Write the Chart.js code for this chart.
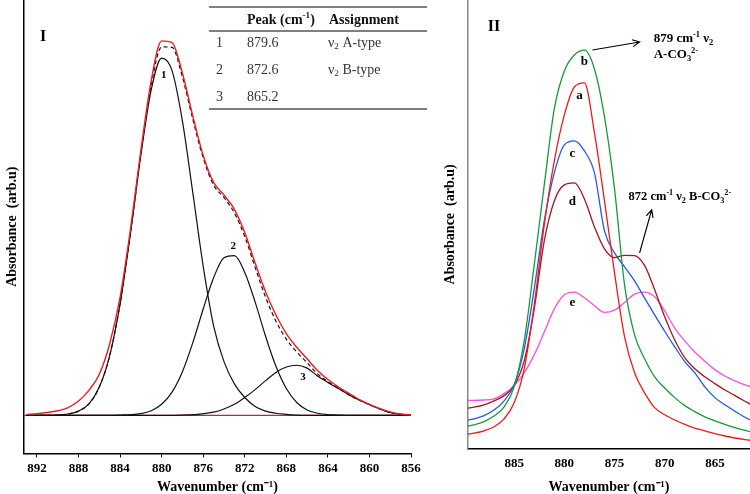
<!DOCTYPE html>
<html>
<head>
<meta charset="utf-8">
<script src="https://cdn.jsdelivr.net/npm/chart.js@4.4.0/dist/chart.umd.min.js"></script>
<style>
  body { margin: 0; background: #fff; }
  #wrap { position: relative; width: 750px; height: 494px; }
  #box1 { position: absolute; left: 0; top: 0; width: 430px; height: 494px; }
  #box2 { position: absolute; left: 436px; top: 0; width: 314px; height: 494px; }
</style>
</head>
<body>
<div id="wrap">
  <div id="box1"><canvas id="chart1"></canvas></div>
  <div id="box2"><canvas id="chart2"></canvas></div>
</div>
<script>
// ---- panel I : fitted v2 carbonate band ----
var wn1 = [893, 892, 891, 890, 889, 888, 887, 886, 885, 884, 883, 882, 881, 880, 879, 878, 877, 876, 875,
  874, 873, 872, 871, 870, 869, 868, 867, 866, 865, 864, 863, 862, 861, 860, 859, 858, 857, 856];
var measured = [0.003, 0.005, 0.008, 0.013, 0.022, 0.04, 0.07, 0.115, 0.2, 0.33, 0.52, 0.74, 0.935, 1.045, 1.04,
  0.955, 0.835, 0.725, 0.65, 0.615, 0.575, 0.51, 0.425, 0.345, 0.28, 0.228, 0.19, 0.158, 0.125, 0.1, 0.08,
  0.062, 0.045, 0.031, 0.019, 0.01, 0.004, 0.001];
var fitSum = [0, 0, 0, 0.001, 0.004, 0.012, 0.032, 0.079, 0.167, 0.312, 0.51, 0.731, 0.922, 1.028, 1.027,
  0.944, 0.826, 0.718, 0.643, 0.608, 0.565, 0.499, 0.413, 0.33, 0.263, 0.213, 0.177, 0.147, 0.116, 0.094,
  0.076, 0.058, 0.043, 0.03, 0.018, 0.008, 0.003, 0.001];
var peak1 = [0, 0, 0, 0.001, 0.004, 0.012, 0.032, 0.079, 0.167, 0.311, 0.508, 0.726, 0.909, 0.997, 0.962,
  0.821, 0.621, 0.416, 0.25, 0.15, 0.088, 0.05, 0.025, 0.012, 0.006, 0.003, 0.001, 0, 0, 0, 0, 0, 0, 0, 0, 0, 0, 0];
var peak2 = [0, 0, 0, 0, 0, 0, 0, 0, 0, 0.001, 0.002, 0.005, 0.013, 0.031, 0.065, 0.122, 0.203, 0.297, 0.384,
  0.44, 0.446, 0.399, 0.316, 0.221, 0.137, 0.075, 0.036, 0.015, 0.006, 0.002, 0.001, 0, 0, 0, 0, 0, 0, 0];
var peak3 = [0, 0, 0, 0, 0, 0, 0, 0, 0, 0, 0, 0, 0, 0, 0, 0.001, 0.002, 0.005, 0.009, 0.018, 0.031, 0.05,
  0.072, 0.097, 0.12, 0.135, 0.14, 0.132, 0.11, 0.092, 0.075, 0.058, 0.043, 0.03, 0.018, 0.008, 0.003, 0.001];
var baseline1 = [0, 0];
var baseX1 = [893.25, 856];
var ticks1 = [892, 888, 884, 880, 876, 872, 868, 864, 860, 856];

// ---- panel II : samples a-e ----
var wn2 = [890, 889, 888, 887, 886, 885, 884, 883, 882, 881, 880, 879, 878, 877, 876, 875, 874, 873, 872,
  871, 870, 869, 868, 867, 866, 865, 864, 863, 862, 861];
var sampleA = [0.035, 0.039, 0.045, 0.055, 0.075, 0.115, 0.2, 0.36, 0.56, 0.72, 0.835, 0.905, 0.915, 0.79,
  0.62, 0.44, 0.28, 0.19, 0.14, 0.103, 0.085, 0.072, 0.061, 0.052, 0.045, 0.038, 0.032, 0.027, 0.023, 0.02];
var sampleB = [0.055, 0.06, 0.068, 0.082, 0.105, 0.155, 0.27, 0.46, 0.66, 0.85, 0.945, 0.985, 0.997, 0.95,
  0.83, 0.65, 0.41, 0.285, 0.225, 0.18, 0.152, 0.128, 0.108, 0.093, 0.08, 0.07, 0.061, 0.053, 0.046, 0.04];
var sampleC = [0.07, 0.075, 0.083, 0.097, 0.12, 0.16, 0.25, 0.4, 0.57, 0.69, 0.76, 0.77, 0.745, 0.69,
  0.545, 0.49, 0.455, 0.42, 0.377, 0.335, 0.294, 0.255, 0.218, 0.19, 0.155, 0.128, 0.11, 0.094, 0.079, 0.066];
var sampleD = [0.1, 0.104, 0.11, 0.12, 0.133, 0.158, 0.22, 0.35, 0.52, 0.62, 0.66, 0.665, 0.625, 0.555,
  0.5, 0.478, 0.484, 0.483, 0.458, 0.398, 0.33, 0.272, 0.228, 0.2, 0.18, 0.163, 0.147, 0.133, 0.119, 0.105];
var sampleE = [0.121, 0.121, 0.122, 0.125, 0.138, 0.158, 0.19, 0.235, 0.292, 0.35, 0.385, 0.392, 0.378,
  0.358, 0.341, 0.347, 0.366, 0.387, 0.392, 0.38, 0.345, 0.302, 0.27, 0.242, 0.219, 0.198, 0.182, 0.17, 0.16, 0.152];
var ticks2 = [885, 880, 875, 870, 865];

var serif = '"Liberation Serif", "Times New Roman", serif';

function pts(xs, ys) {
  return xs.map(function (x, i) { return { x: x, y: ys[i] }; });
}

function curve(xs, ys, color, width, dash) {
  return {
    data: pts(xs, ys),
    borderColor: color,
    borderWidth: width,
    borderDash: dash || [],
    pointRadius: 0,
    fill: false,
    cubicInterpolationMode: 'monotone'
  };
}

// text with sub / superscripts, parts = [[text, 'sup'|'sub'|undefined], ...]
function rich(ctx, x, y, parts, size, bold, align) {
  var weight = bold ? 'bold ' : '';
  var total = 0;
  parts.forEach(function (p) {
    ctx.font = weight + (p[1] ? size * 0.65 : size) + 'px ' + serif;
    total += ctx.measureText(p[0]).width;
  });
  var cx = align === 'center' ? x - total / 2 : x;
  ctx.textAlign = 'left';
  ctx.textBaseline = 'middle';
  parts.forEach(function (p) {
    var s = p[1] ? size * 0.65 : size;
    var dy = p[1] === 'sup' ? -size * 0.32 : (p[1] === 'sub' ? size * 0.28 : 0);
    ctx.font = weight + s + 'px ' + serif;
    ctx.fillText(p[0], cx, y + dy);
    cx += ctx.measureText(p[0]).width;
  });
}

function arrow(ctx, x1, y1, x2, y2) {
  var a = Math.atan2(y2 - y1, x2 - x1), h = 8;
  ctx.beginPath();
  ctx.moveTo(x1, y1);
  ctx.lineTo(x2, y2);
  ctx.moveTo(x2 - h * Math.cos(a - 0.45), y2 - h * Math.sin(a - 0.45));
  ctx.lineTo(x2, y2);
  ctx.lineTo(x2 - h * Math.cos(a + 0.45), y2 - h * Math.sin(a + 0.45));
  ctx.stroke();
}

var notes1 = {
  id: 'notes1',
  afterDraw: function (chart) {
    var ctx = chart.ctx, sx = chart.scales.x, sy = chart.scales.y;
    ctx.save();
    ctx.fillStyle = '#000';
    rich(ctx, sx.getPixelForValue(891.4), sy.getPixelForValue(1.056), [['I']], 16, true, 'center');
    rich(ctx, sx.getPixelForValue(879.8), sy.getPixelForValue(0.95), [['1']], 11, true, 'center');
    rich(ctx, sx.getPixelForValue(873.1), sy.getPixelForValue(0.472), [['2']], 11, true, 'center');
    rich(ctx, sx.getPixelForValue(866.4), sy.getPixelForValue(0.106), [['3']], 11, true, 'center');

    // peak table
    ctx.strokeStyle = '#555';
    ctx.lineWidth = 1.6;
    [7, 31, 109].forEach(function (y) {
      ctx.beginPath();
      ctx.moveTo(209, y);
      ctx.lineTo(427, y);
      ctx.stroke();
    });
    ctx.fillStyle = '#111';
    rich(ctx, 247, 20, [['Peak (cm'], ['-1', 'sup'], [')']], 14, true);
    rich(ctx, 329, 20, [['Assignment']], 14, true);
    ctx.fillStyle = '#333';
    rich(ctx, 216, 43, [['1']], 14);
    rich(ctx, 247, 43, [['879.6']], 14);
    rich(ctx, 328, 43, [['\u03bd'], ['2', 'sub'], [' A-type']], 14);
    rich(ctx, 216, 70, [['2']], 14);
    rich(ctx, 247, 70, [['872.6']], 14);
    rich(ctx, 328, 70, [['\u03bd'], ['2', 'sub'], [' B-type']], 14);
    rich(ctx, 216, 97, [['3']], 14);
    rich(ctx, 247, 97, [['865.2']], 14);
    ctx.restore();
  }
};

var notes2 = {
  id: 'notes2',
  afterDraw: function (chart) {
    var ctx = chart.ctx, sx = chart.scales.x, sy = chart.scales.y;
    function px(v) { return sx.getPixelForValue(v); }
    function py(v) { return sy.getPixelForValue(v); }
    ctx.save();
    ctx.fillStyle = '#000';
    ctx.strokeStyle = '#000';
    ctx.lineWidth = 1.2;
    rich(ctx, px(887.0), py(1.055), [['II']], 16, true, 'center');
    rich(ctx, px(878.0), py(0.9675), [['b']], 13, true, 'center');
    rich(ctx, px(878.5), py(0.8825), [['a']], 13, true, 'center');
    rich(ctx, px(879.2), py(0.7375), [['c']], 13, true, 'center');
    rich(ctx, px(879.2), py(0.6175), [['d']], 13, true, 'center');
    rich(ctx, px(879.2), py(0.365), [['e']], 13, true, 'center');
    arrow(ctx, px(877.2), py(0.9975), px(872.5), py(1.0175));
    rich(ctx, px(871.1), py(1.025), [['879 cm'], ['-1', 'sup'], [' \u03bd'], ['2', 'sub']], 13, true);
    rich(ctx, px(871.1), py(0.985), [['A-CO'], ['3', 'sub'], ['2-', 'sup']], 13, true);
    arrow(ctx, px(872.5), py(0.49), px(871.3), py(0.5975));
    rich(ctx, px(873.6), py(0.63), [['872 cm'], ['-1', 'sup'], [' \u03bd'], ['2', 'sub'], [' B-CO'], ['3', 'sub'], ['2-', 'sup']], 12.5, true);
    ctx.restore();
  }
};

function xAxis(min, max, tickList, tickLen, tickPad, titlePadTop) {
  return {
    type: 'linear',
    reverse: true,
    min: min,
    max: max,
    afterBuildTicks: function (axis) {
      axis.ticks = tickList.map(function (v) { return { value: v }; });
    },
    grid: { display: tickLen > 0, drawOnChartArea: false, drawTicks: tickLen > 0, tickLength: tickLen, color: '#000' },
    border: { display: true, color: '#000', width: 1.5 },
    ticks: { color: '#000', padding: tickPad, maxRotation: 0, font: { family: serif, size: 13, weight: 'bold' } },
    title: {
      display: true,
      text: 'Wavenumber (cm\u207b\u00b9)',
      color: '#000',
      font: { family: serif, size: 14, weight: 'bold', lineHeight: 1 },
      padding: { top: titlePadTop, bottom: 0 }
    }
  };
}

function yAxis(min, max, borderColor, padTop, padBottom) {
  return {
    min: min,
    max: max,
    grid: { display: false, drawTicks: false },
    border: { display: true, color: borderColor, width: 1.5 },
    ticks: { display: false },
    title: {
      display: true,
      text: 'Absorbance  (arb.u)',
      color: '#000',
      font: { family: serif, size: 14, weight: 'bold' },
      padding: { top: padTop, bottom: padBottom }
    }
  };
}

var baseOpts = {
  responsive: true,
  maintainAspectRatio: false,
  animation: false,
  plugins: { legend: { display: false }, tooltip: { enabled: false } }
};

new Chart(document.getElementById('chart1'), {
  type: 'line',
  data: {
    datasets: [
      curve(wn1, measured, '#ee1c24', 1.4),
      curve(wn1, fitSum, '#111', 1.2, [4, 3]),
      curve(wn1, peak1, '#111', 1.2),
      curve(wn1, peak2, '#111', 1.2),
      curve(wn1, peak3, '#111', 1.2),
      curve(baseX1, baseline1, '#c8242a', 1.2)
    ]
  },
  options: Object.assign({}, baseOpts, {
    layout: { padding: { left: 0, right: 19, top: 0, bottom: 0 } },
    scales: {
      x: xAxis(856, 893.25, ticks1, 4, 3, 1),
      y: yAxis(-0.106, 1.159, '#000', 3.6, 3.6)
    }
  }),
  plugins: [notes1]
});

new Chart(document.getElementById('chart2'), {
  type: 'line',
  data: {
    datasets: [
      curve(wn2, sampleA, '#f01a1a', 1.3),
      curve(wn2, sampleB, '#169a3a', 1.3),
      curve(wn2, sampleC, '#2458e8', 1.3),
      curve(wn2, sampleD, '#a3181e', 1.3),
      curve(wn2, sampleE, '#ff4fd8', 1.3)
    ]
  },
  options: Object.assign({}, baseOpts, {
    layout: { padding: { left: 0, right: 0, top: 0, bottom: 0 } },
    scales: {
      x: xAxis(861.5, 889.6, ticks2, 0, 7.2, 1.2),
      y: yAxis(0, 1.1225, '#888', 5.6, 9.6)
    }
  }),
  plugins: [notes2]
});
</script>
</body>
</html>
